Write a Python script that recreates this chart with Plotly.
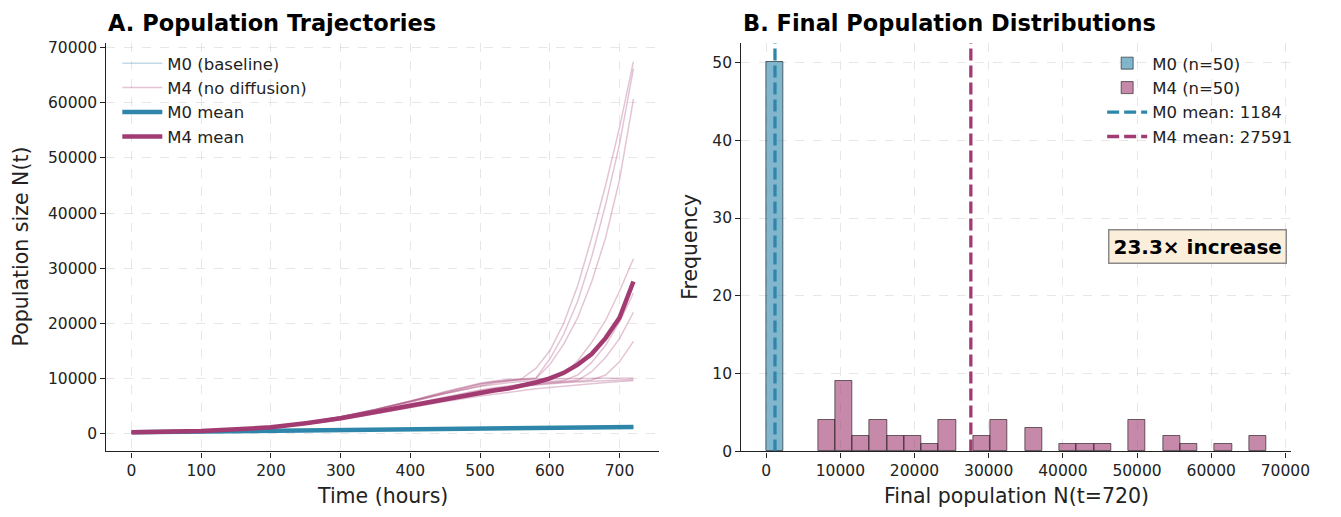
import numpy as np
import plotly.graph_objects as go

# ---------------- data ----------------
time_h = [0, 50, 100, 150, 200, 250, 300, 350, 400, 450, 500, 520, 540, 560, 580, 600, 620, 640, 660, 680, 700, 720]

m0_runs = [
    [200, 262, 333, 404, 474, 545, 615, 686, 756, 826, 896, 925, 953, 980, 1006, 1034, 1063, 1089, 1114, 1140, 1165, 1190],
    [200, 255, 322, 391, 460, 528, 596, 664, 733, 801, 869, 897, 925, 951, 977, 1004, 1032, 1057, 1081, 1106, 1130, 1154],
    [200, 265, 338, 410, 482, 555, 626, 698, 770, 842, 914, 943, 972, 999, 1025, 1054, 1083, 1109, 1135, 1161, 1187, 1212],
]
m0_mean = [200, 260, 330, 400, 470, 540, 610, 680, 750, 820, 890, 920, 950, 975, 1000, 1030, 1060, 1085, 1110, 1135, 1160, 1184]

m4_runs = [
    [200, 292, 465, 750, 1200, 1950, 3050, 4400, 5900, 7600, 9100, 9500, 9800, 9950, 11800, 15000, 20000, 26800, 35500, 45000, 55500, 67500],
    [200, 290, 462, 745, 1190, 1930, 3000, 4350, 5850, 7500, 9000, 9400, 9700, 9900, 10050, 13500, 18000, 24000, 32000, 41500, 52500, 66200],
    [200, 288, 458, 738, 1175, 1890, 2920, 4200, 5650, 7250, 8700, 9150, 9500, 9750, 9950, 12500, 16200, 21000, 27500, 35500, 46000, 60700],
    [200, 292, 462, 745, 1190, 1920, 2980, 4300, 5750, 7250, 8500, 8900, 9200, 9450, 9600, 9750, 10800, 13200, 16500, 20500, 25800, 31700],
    [200, 288, 455, 730, 1160, 1840, 2820, 4020, 5350, 6700, 7900, 8300, 8650, 8950, 9200, 9400, 9600, 10600, 12900, 16000, 20200, 25500],
    [200, 286, 452, 725, 1150, 1810, 2780, 3960, 5260, 6580, 7760, 8150, 8500, 8800, 9050, 9250, 9450, 9650, 11200, 13800, 17200, 22000],
    [200, 284, 448, 718, 1130, 1770, 2700, 3850, 5100, 6380, 7530, 7920, 8280, 8600, 8880, 9120, 9340, 9530, 9700, 10600, 13000, 16700],
    [200, 292, 465, 748, 1195, 1930, 3020, 4350, 5850, 7450, 8900, 9300, 9600, 9800, 9900, 9950, 9980, 10000, 10010, 10020, 10030, 10040],
    [200, 290, 460, 730, 1150, 1800, 2750, 3900, 5150, 6400, 7500, 7900, 8250, 8550, 8800, 9000, 9200, 9350, 9500, 9600, 9700, 9800],
    [200, 280, 440, 700, 1080, 1650, 2500, 3550, 4700, 5800, 6800, 7150, 7500, 7800, 8100, 8350, 8600, 8850, 9050, 9250, 9450, 9600],
]
m4_mean = [200, 290, 465, 740, 1130, 1870, 2750, 3900, 5100, 6300, 7400, 7800, 8150, 8650, 9250, 10000, 11000, 12500, 14400, 17300, 21000, 27591]

# histogram of final populations (shared bins)
hist_min, hist_max = 22, 67447
m0_counts = [50] + [0] * 28
m4_counts = [0, 0, 0, 4, 9, 2, 4, 2, 2, 1, 4, 0, 2, 4, 0, 3, 0, 1, 1, 1, 0, 4, 0, 2, 1, 0, 1, 0, 2]
m0_final_mean = 1184
m4_final_mean = 27591
fold_change = m4_final_mean / m0_final_mean

# ---------------- styling ----------------
C0 = "#2E86AB"
C4 = "#A23B72"
C0_faint = "rgba(46,134,171,0.3)"
C4_faint = "rgba(162,59,114,0.3)"
FONT = "DejaVu Sans"
W, H = 1341, 517

def px_x(p):
    return p / W

def px_y(p):
    return 1 - p / H

fig = go.Figure()

# ---- panel A ----
for i, run in enumerate(m0_runs):
    fig.add_trace(go.Scatter(x=time_h, y=run, mode="lines", line=dict(color=C0_faint, width=1.5),
                             name="M0 (baseline)", showlegend=(i == 0), legend="legend",
                             xaxis="x", yaxis="y", hoverinfo="skip"))
for i, run in enumerate(m4_runs):
    fig.add_trace(go.Scatter(x=time_h, y=run, mode="lines", line=dict(color=C4_faint, width=1.5),
                             name="M4 (no diffusion)", showlegend=(i == 0), legend="legend",
                             xaxis="x", yaxis="y", hoverinfo="skip"))
fig.add_trace(go.Scatter(x=time_h, y=m0_mean, mode="lines", line=dict(color=C0, width=4.5),
                         name="M0 mean", legend="legend", xaxis="x", yaxis="y"))
fig.add_trace(go.Scatter(x=time_h, y=m4_mean, mode="lines", line=dict(color=C4, width=4.5),
                         name="M4 mean", legend="legend", xaxis="x", yaxis="y"))

# ---- panel B ----
edges = np.linspace(hist_min, hist_max, len(m4_counts) + 1)
centers = (edges[:-1] + edges[1:]) / 2
bw = edges[1] - edges[0]

def nz(counts):
    xs = [c for c, n in zip(centers, counts) if n > 0]
    ys = [n for n in counts if n > 0]
    return xs, ys

x0, y0 = nz(m0_counts)
x4, y4 = nz(m4_counts)
fig.add_trace(go.Bar(x=x0, y=y0, width=bw, name="M0 (n=50)",
                     marker=dict(color="rgba(46,134,171,0.6)", line=dict(color="rgba(0,0,0,0.55)", width=1)),
                     legend="legend2", xaxis="x2", yaxis="y2"))
fig.add_trace(go.Bar(x=x4, y=y4, width=bw, name="M4 (n=50)",
                     marker=dict(color="rgba(162,59,114,0.6)", line=dict(color="rgba(0,0,0,0.55)", width=1)),
                     legend="legend2", xaxis="x2", yaxis="y2"))

ytop2 = 52.5
fig.add_trace(go.Scatter(x=[m0_final_mean, m0_final_mean], y=[0, ytop2], mode="lines",
                         line=dict(color=C0, width=3.3, dash="12px,5px"),
                         name=f"M0 mean: {m0_final_mean}", legend="legend2", xaxis="x2", yaxis="y2"))
fig.add_trace(go.Scatter(x=[m4_final_mean, m4_final_mean], y=[0, ytop2], mode="lines",
                         line=dict(color=C4, width=3.3, dash="12px,5px"),
                         name=f"M4 mean: {m4_final_mean}", legend="legend2", xaxis="x2", yaxis="y2"))

axis_common = dict(showline=True, linecolor="#222", linewidth=1.3, ticks="outside", ticklen=5,
                   tickwidth=1.2, tickcolor="#222", mirror=False, zeroline=False,
                   showgrid=True, gridcolor="rgba(176,176,176,0.3)", griddash="dash", gridwidth=1,
                   tickfont=dict(family=FONT, size=15.5, color="#222"))

ydom = [px_y(459), px_y(40)]
fig.update_layout(
    width=W, height=H, autosize=False,
    margin=dict(l=0, r=0, t=0, b=0),
    paper_bgcolor="white", plot_bgcolor="white",
    font=dict(family=FONT, color="#222"),
    barmode="overlay", bargap=0,
    xaxis=dict(domain=[px_x(108), px_x(668)], range=[-36, 756], tickvals=list(range(0, 701, 100)),
               anchor="y", **axis_common),
    yaxis=dict(domain=ydom, range=[-3270, 70870], tickvals=list(range(0, 70001, 10000)),
               tickformat="d", anchor="x", **axis_common),
    xaxis2=dict(domain=[px_x(752), px_x(1310)], range=[-3350, 70818], tickvals=list(range(0, 70001, 10000)),
                tickformat="d", anchor="y2", **axis_common),
    yaxis2=dict(domain=ydom, range=[0, ytop2], tickvals=list(range(0, 51, 10)), anchor="x2", **axis_common),
    legend=dict(x=px_x(119), y=px_y(43), xanchor="left", yanchor="top", bgcolor="rgba(0,0,0,0)",
                font=dict(family=FONT, size=16.5, color="#222"), tracegroupgap=0, itemwidth=40),
    legend2=dict(x=px_x(1118), y=px_y(43), xanchor="left", yanchor="top", bgcolor="rgba(0,0,0,0)",
                 font=dict(family=FONT, size=16.5, color="#222"), tracegroupgap=0, itemwidth=40),
    showlegend=True,
)

ann = []
ann.append(dict(text="<b>A. Population Trajectories</b>", x=px_x(108), y=px_y(20), xref="paper", yref="paper",
                xanchor="left", yanchor="middle", showarrow=False, font=dict(family=FONT, size=22.5, color="black")))
ann.append(dict(text="<b>B. Final Population Distributions</b>", x=px_x(752), y=px_y(20), xref="paper", yref="paper",
                xanchor="left", yanchor="middle", showarrow=False, font=dict(family=FONT, size=22.5, color="black")))
ann.append(dict(text="Time (hours)", x=px_x(388), y=px_y(505), xref="paper", yref="paper",
                xanchor="center", yanchor="middle", showarrow=False, font=dict(family=FONT, size=20.5, color="#222")))
ann.append(dict(text="Final population N(t=720)", x=px_x(1031), y=px_y(505), xref="paper", yref="paper",
                xanchor="center", yanchor="middle", showarrow=False, font=dict(family=FONT, size=20.5, color="#222")))
ann.append(dict(text="Population size N(t)", x=px_x(21), y=px_y(249), xref="paper", yref="paper", textangle=-90,
                xanchor="center", yanchor="middle", showarrow=False, font=dict(family=FONT, size=20.5, color="#222")))
ann.append(dict(text="Frequency", x=px_x(700), y=px_y(249), xref="paper", yref="paper", textangle=-90,
                xanchor="center", yanchor="middle", showarrow=False, font=dict(family=FONT, size=20.5, color="#222")))
ann.append(dict(text=f"<b>{fold_change:.1f}× increase</b>", x=px_x(1305), y=px_y(249), xref="paper", yref="paper",
                xanchor="right", yanchor="middle", showarrow=False, bgcolor="#fbeedb", bordercolor="#8a8a8a",
                borderwidth=1.5, borderpad=4, font=dict(family=FONT, size=20, color="black")))
fig.update_layout(annotations=ann)

fig.write_html("out.html", config={"displayModeBar": False},
               post_script="document.body.style.margin='0';document.documentElement.style.overflow='hidden';")
